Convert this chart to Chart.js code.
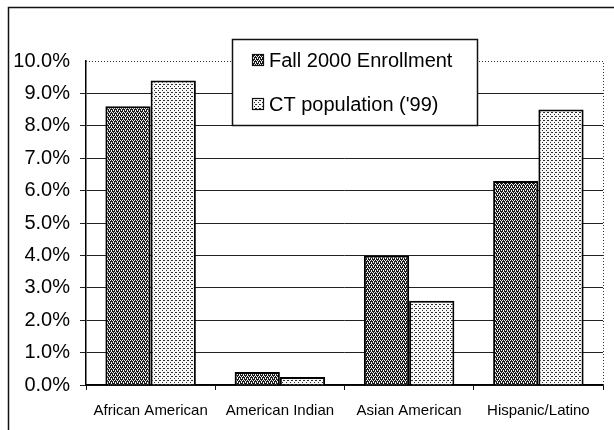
<!DOCTYPE html>
<html>
<head>
<meta charset="utf-8">
<script src="https://cdn.jsdelivr.net/npm/chart.js@4"></script>
<style>
  html, body { margin: 0; padding: 0; background: #fff; }
  #wrap { width: 614px; height: 430px; }
</style>
</head>
<body>
<div id="wrap"><canvas id="grafico" width="614" height="430"></canvas></div>
<script>
const grupos = ['African American', 'American Indian', 'Asian American', 'Hispanic/Latino'];
const matriculas2000 = [8.6, 0.4, 4.0, 6.3];
const populacaoCT99 = [9.4, 0.25, 2.6, 8.5];
const nomesSeries = ['Fall 2000 Enrollment', "CT population ('99)"];
const yMax = 10;
const yPasso = 1;

// hatch fills built from tiny tiles
function padrao(fundo, tinta, pontos) {
    const c = document.createElement('canvas');
    c.width = 4; c.height = 4;
    const g = c.getContext('2d');
    g.fillStyle = fundo;
    g.fillRect(0, 0, 4, 4);
    g.fillStyle = tinta;
    pontos.forEach(p => g.fillRect(p[0], p[1], 1, 1));
    return g.createPattern(c, 'repeat');
}
const ctx = document.getElementById('grafico').getContext('2d');
const escuro = padrao('#1c1c1c', '#f4f4f4', [[0, 0], [2, 0], [1, 2], [3, 2], [1, 1], [3, 3]]);
const claro = padrao('#f8f8f8', '#2a2a2a', [[0, 0], [2, 2], [3, 0]]);

const moldura = {
    id: 'moldura',
    beforeDraw(chart) {
        const c = chart.ctx;
        c.save();
        c.fillStyle = '#fff';
        c.fillRect(0, 0, chart.width, chart.height);
        c.strokeStyle = '#111';
        c.lineWidth = 1.5;
        c.beginPath();
        c.moveTo(8.5, 430);
        c.lineTo(8.5, 7.5);
        c.lineTo(614, 7.5);
        c.stroke();
        c.restore();
    },
    beforeDatasetsDraw(chart) {
        // dotted top and right edge of the plot area
        const a = chart.chartArea;
        const c = chart.ctx;
        c.save();
        c.strokeStyle = '#333';
        c.lineWidth = 1;
        c.setLineDash([1, 2]);
        c.beginPath();
        c.moveTo(a.left, a.top + 0.5);
        c.lineTo(a.right + 0.5, a.top + 0.5);
        c.lineTo(a.right + 0.5, a.bottom);
        c.stroke();
        c.restore();
    },
    afterDraw(chart) {
        // legend box sitting over the top of the plot
        const c = chart.ctx;
        const x = 232, y = 39, w = 245, h = 86;
        c.save();
        c.fillStyle = '#fff';
        c.fillRect(x, y, w, h);
        c.strokeStyle = '#111';
        c.lineWidth = 1.5;
        c.strokeRect(x + 0.5, y + 0.5, w, h);
        c.font = '20px "Liberation Sans", Arial, sans-serif';
        c.textBaseline = 'middle';
        const linhas = [60, 104];
        chart.data.datasets.forEach((ds, i) => {
            c.fillStyle = ds.backgroundColor;
            c.fillRect(252, linhas[i] - 6, 12, 12);
            c.lineWidth = 1.2;
            c.strokeRect(252.5, linhas[i] - 5.5, 11, 11);
            c.fillStyle = '#000';
            c.fillText(ds.label, 269, linhas[i] + 1);
        });
        c.restore();
    }
};

const chart = new Chart(ctx, {
    type: 'bar',
    data: {
        labels: grupos,
        datasets: [
            {
                label: nomesSeries[0],
                data: matriculas2000,
                backgroundColor: escuro,
                borderColor: '#000',
                borderWidth: 2
            },
            {
                label: nomesSeries[1],
                data: populacaoCT99,
                backgroundColor: claro,
                borderColor: '#000',
                borderWidth: 2
            }
        ]
    },
    options: {
        responsive: false,
        animation: false,
        layout: { padding: { top: 61, right: 11, left: 0, bottom: 0 } },
        datasets: {
            bar: { categoryPercentage: 0.7, barPercentage: 1.0 }
        },
        scales: {
            x: {
                afterFit: s => { s.height = 45; },
                grid: {
                    offset: true,
                    drawOnChartArea: false,
                    color: '#111',
                    tickLength: 5
                },
                border: { color: '#000', width: 1.5 },
                ticks: {
                    color: '#000',
                    padding: 12,
                    maxRotation: 0,
                    font: { family: '"Liberation Sans", Arial, sans-serif', size: 15 }
                }
            },
            y: {
                min: 0,
                max: yMax,
                afterFit: s => { s.width = 86; },
                grid: {
                    color: ctx => ctx.tick && ctx.tick.value === yMax ? 'rgba(0,0,0,0)' : '#222',
                    lineWidth: 1,
                    tickLength: 6
                },
                border: { color: '#000', width: 1.5 },
                ticks: {
                    stepSize: yPasso,
                    color: '#000',
                    padding: 10,
                    font: { family: '"Liberation Sans", Arial, sans-serif', size: 20 },
                    callback: v => v.toFixed(1) + '%'
                }
            }
        },
        plugins: {
            legend: { display: false },
            tooltip: { enabled: false }
        }
    },
    plugins: [moldura]
});
</script>
</body>
</html>
